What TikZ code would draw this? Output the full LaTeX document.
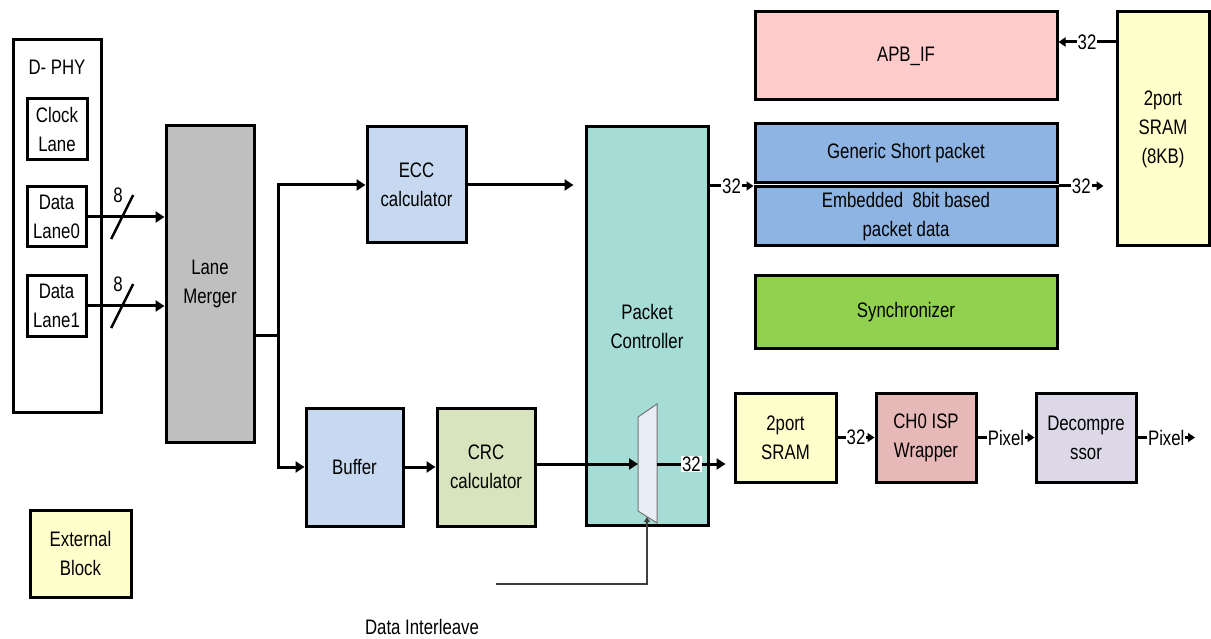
\documentclass[tikz,border=0pt]{standalone}
\usepackage{fontspec}
\setmainfont{Liberation Sans}[FakeStretch=0.8]
\usetikzlibrary{arrows.meta, positioning}
\definecolor{mergegray}{RGB}{191,191,191}
\definecolor{calcblue}{RGB}{198,217,241}
\definecolor{ctrlteal}{RGB}{166,220,214}
\definecolor{crcgreen}{RGB}{215,228,189}
\definecolor{sramyellow}{RGB}{255,255,204}
\definecolor{apbpink}{RGB}{255,204,204}
\definecolor{pktblue}{RGB}{141,180,226}
\definecolor{syncgreen}{RGB}{146,208,80}
\definecolor{isprose}{RGB}{230,185,184}
\definecolor{declav}{RGB}{221,216,232}
\definecolor{muxfill}{RGB}{233,237,245}

\begin{document}
\begin{tikzpicture}[x=1pt,y=-1pt,
        font=\fontsize{21}{29}\selectfont,
        blk/.style={draw,line width=3pt,align=center,inner sep=0pt},
        wire/.style={line width=3pt},
        arr/.style={wire,-{Triangle[length=9pt,width=11pt]}},
        sarr/.style={wire,-{Triangle[length=7pt,width=9pt]}},
        tag/.style={fill=white,inner sep=1pt}]
      \useasboundingbox (0,0) rectangle (1211,639);
      % D-PHY side
      \node[blk,minimum width=88,minimum height=372] (dphy) at (57,226) {};
      \node (dphylbl) at (57,67) {D- PHY};
      \node[blk,minimum width=60,minimum height=61] (clk) at (57,129.5) {Clock\\Lane};
      \node[blk,minimum width=59,minimum height=60] (dl0) at (56.5,217) {Data\\Lane0};
      \node[blk,minimum width=59,minimum height=60] (dl1) at (56.5,306) {Data\\Lane1};
      \node[blk,fill=mergegray,minimum width=88,minimum height=316] (lm) at (210,284) {Lane\\Merger};
      \node[blk,fill=sramyellow,minimum width=101,minimum height=87] (ext) at (80.5,553.5) {External\\Block};
      % calculators and controller
      \node[blk,fill=calcblue,minimum width=99,minimum height=116] (ecc) at (416.5,185) {ECC\\calculator};
      \node[blk,fill=calcblue,minimum width=97,minimum height=118] (buf) at (354.5,467) {Buffer};
      \node[blk,fill=crcgreen,minimum width=98,minimum height=118] (crc) at (486,467) {CRC\\calculator};
      \node[blk,fill=ctrlteal,minimum width=122,minimum height=398] (pc) at (647,326) {Packet\\Controller};
      % right side blocks
      \node[blk,fill=apbpink,minimum width=302,minimum height=88] (apb) at (906,56) {APB\_IF};
      \node[blk,fill=pktblue,minimum width=302,minimum height=59] (gsp) at (906,153.5) {Generic Short packet};
      \node[blk,fill=pktblue,minimum width=302,minimum height=59] (emb) at (906,216.5) {Embedded\ \ 8bit based\\packet data};
      \node[blk,fill=syncgreen,minimum width=302,minimum height=72] (sync) at (906,312) {Synchronizer};
      \node[blk,fill=sramyellow,minimum width=92,minimum height=234] (sram8k) at (1163,129) {2port\\SRAM\\(8KB)};
      \node[blk,fill=sramyellow,minimum width=101,minimum height=89] (sram2) at (785.5,437.5) {2port\\SRAM};
      \node[blk,fill=isprose,minimum width=100,minimum height=89] (ch0) at (926,437.5) {CH0 ISP\\Wrapper};
      \node[blk,fill=declav,minimum width=100,minimum height=89] (dec) at (1086,437.5) {Decompre\\ssor};
      % mux inside the controller
      \draw[line width=1pt,draw=black!55,fill=muxfill]
        (638,417) -- (657,404) -- (657,523) -- (638,511) -- cycle;
      \coordinate (muxin) at (638,464);
      \coordinate (muxout) at (657,464);
      \coordinate (muxsel) at (647,517);
      \coordinate (disrc) at (496,584);
      \coordinate (jn) at (278,335);
      \coordinate (pxout) at (1195,437.5);
      \node (dilbl) at (422,627) {Data Interleave};

      % lanes into merger
      \draw[arr] (dl0.east) -- (dl0.east -| lm.west) coordinate[pos=0.45] (sl0);
      \draw[arr] (dl1.east) -- (dl1.east -| lm.west) coordinate[pos=0.45] (sl1);
      \draw[wire,line width=2.5pt] (sl0) +(-11,22) -- +(11,-22);
      \draw[wire,line width=2.5pt] (sl1) +(-11,22) -- +(11,-22);
      \node (w0) at ([shift={(-4,-22)}]sl0) {8};
      \node (w1) at ([shift={(-4,-22)}]sl1) {8};
      % merger fan-out
      \draw[wire] (lm.east |- jn) -- (jn);
      \draw[arr] (jn) |- (ecc.west);
      \draw[arr] (jn) |- (buf.west);
      \draw[arr,shorten >=11pt] (ecc.east) -- (ecc.east -| pc.west);
      \draw[arr] (buf.east) -- (crc.west);
      \draw[arr] (crc.east |- muxin) -- (muxin);
      \draw[line width=1.5pt,draw=black!75,-{Triangle[length=5pt,width=6pt]}] (disrc) -| (muxsel);
      % data paths
      \draw[arr,shorten >=8pt] (muxout) -- node[tag,pos=0.45] {32} (muxout -| sram2.west);
      \draw[sarr] (sram2.east) -- node[tag] {32} (ch0.west);
      \draw[sarr] (ch0.east) -- node[tag] {Pixel} (dec.west);
      \draw[sarr] (dec.east) -- node[tag] {Pixel} (pxout);
      \draw[sarr] (pc.east |- 0,186) -- node[tag] {32} (emb.west |- 0,186);
      \draw[sarr,shorten >=12pt] (emb.east |- 0,186) -- node[tag,pos=0.4] {32} (sram8k.west |- 0,186);
      \draw[sarr] (sram8k.west |- 0,42) -- node[tag] {32} (apb.east |- 0,42);
    \end{tikzpicture}
\end{document}
